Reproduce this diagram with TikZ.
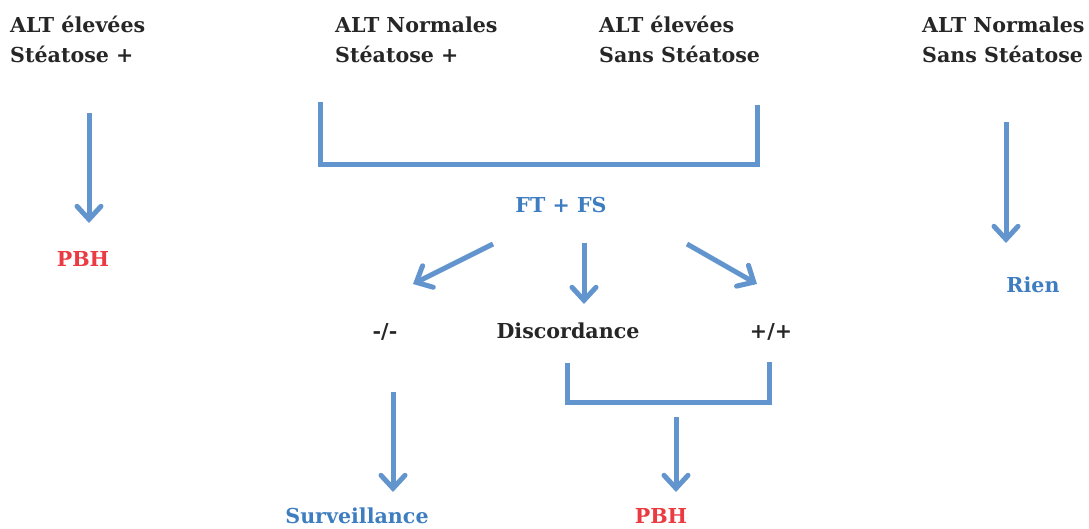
\documentclass[tikz,border=0pt]{standalone}
\usepackage{fontspec}
\setmainfont{DejaVu Serif}
\usetikzlibrary{arrows.meta}
\definecolor{lineblue}{RGB}{98,149,205}
\definecolor{textblue}{RGB}{62,126,192}
\definecolor{textred}{RGB}{234,58,66}
\definecolor{textdark}{RGB}{38,38,38}
\begin{document}
\begin{tikzpicture}[x=1pt,y=-1pt,
  hdr/.style={anchor=base west, inner sep=0pt, align=left,
    font=\bfseries\fontsize{20.6}{30}\selectfont, text=textdark},
  lbl/.style={anchor=base, inner sep=0pt,
    font=\bfseries\fontsize{20.6}{30}\selectfont},
  arr/.style={draw=lineblue, line width=5pt,
    -{Straight Barb[length=13pt,width=24pt,line cap=round]}},
  brk/.style={draw=lineblue, line width=5pt, line join=miter}]
\useasboundingbox (0,0) rectangle (1089,529);
% headers (base anchor = baseline of the last line)
\node[hdr] (h1) at (10,63) {ALT élevées\\Stéatose +};
\node[hdr] (h2) at (335,63) {ALT Normales\\Stéatose +};
\node[hdr] (h3) at (599,63) {ALT élevées\\Sans Stéatose};
\node[hdr] (h4) at (922,63) {ALT Normales\\Sans Stéatose};
% labels
\node[lbl, text=textred] (pbh1) at (83,267) {PBH};
\node[lbl, text=textblue] (ftfs) at (561,213) {FT + FS};
\node[lbl, text=textdark] (neg) at (385,338) {-/-};
\node[lbl, text=textdark] (disc) at (568,338) {Discordance};
\node[lbl, text=textdark] (pos) at (771,338) {+/+};
\node[lbl, text=textblue] (surv) at (357,523) {Surveillance};
\node[lbl, text=textred] (pbh2) at (661,523) {PBH};
\node[lbl, text=textblue] (rien) at (1033,292) {Rien};
% coordinates
\coordinate (a1s) at (89,113);  \coordinate (a1e) at (89,223);
\coordinate (b1l) at (320,102); \coordinate (b1b) at (320,165); \coordinate (b1r) at (757,105);
\coordinate (dls) at (493,244); \coordinate (dle) at (413,284);
\coordinate (dms) at (584,243); \coordinate (dme) at (584,304);
\coordinate (drs) at (687,244); \coordinate (dre) at (757,284);
\coordinate (b2l) at (567,363); \coordinate (b2b) at (567,402); \coordinate (b2r) at (769,362);
\coordinate (sas) at (393,392); \coordinate (sae) at (393,492);
\coordinate (pas) at (676,417); \coordinate (pae) at (676,492);
\coordinate (ras) at (1006,122); \coordinate (rae) at (1006,243);
% connectors
\draw[arr] (a1s) -- (a1e);
\draw[brk] (b1l) -- (b1b) -| (b1r);
\draw[arr] (dls) -- (dle);
\draw[arr] (dms) -- (dme);
\draw[arr] (drs) -- (dre);
\draw[brk] (b2l) -- (b2b) -| (b2r);
\draw[arr] (sas) -- (sae);
\draw[arr] (pas) -- (pae);
\draw[arr] (ras) -- (rae);
\end{tikzpicture}
\end{document}
